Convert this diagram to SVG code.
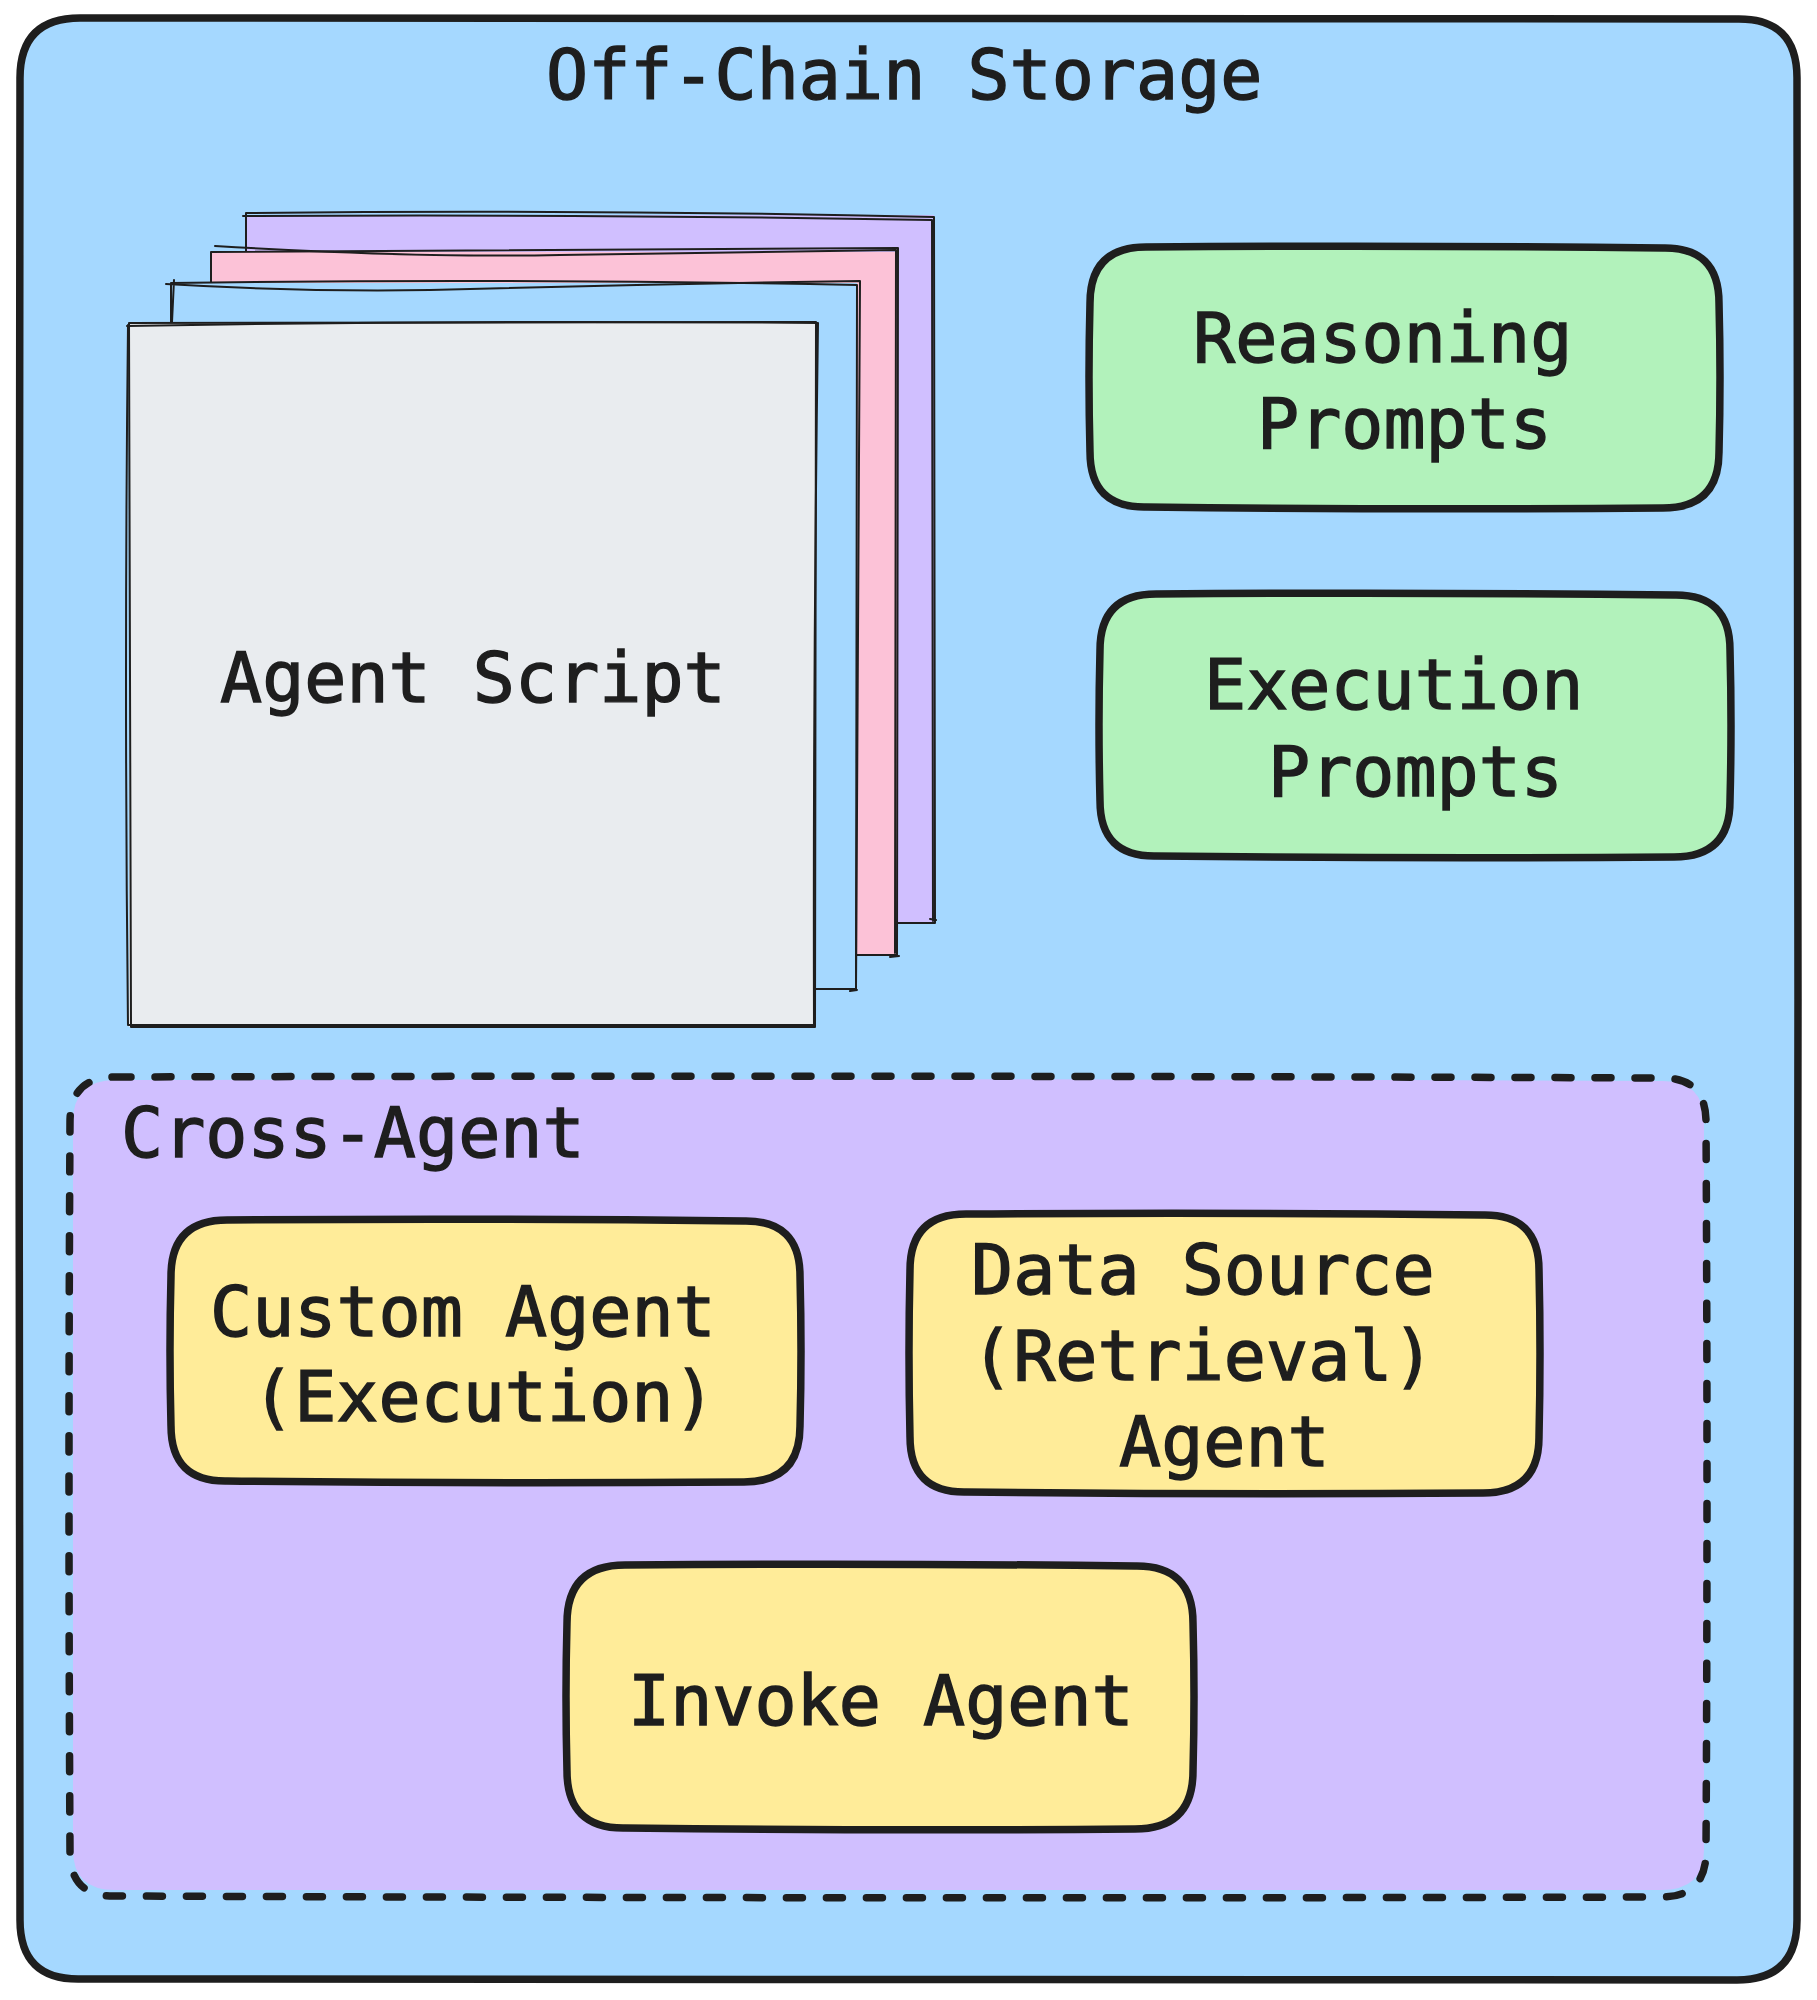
<svg xmlns="http://www.w3.org/2000/svg" width="1817" height="2000" viewBox="0 0 1817 2000">
<style>
.t{font-family:"DejaVu Sans Mono","Liberation Mono",monospace;font-size:70px;fill:#1e1e1e;stroke:#1e1e1e;stroke-width:1.4px;white-space:pre}
.box{stroke:#1e1e1e;stroke-width:7.5;stroke-linejoin:round;stroke-linecap:round}
.thin{fill:none;stroke:#1e1e1e;stroke-width:2;stroke-linecap:round;stroke-linejoin:round}
.green{fill:#b2f2bb}
.yellow{fill:#ffec99}
</style>
<rect width="1817" height="2000" fill="#ffffff"/>
<g id="off-chain-storage">
<path class="box" fill="#a5d8ff" d="M80,18 Q908,15 1737,19 Q1797,18 1797,78 Q1799,999 1797,1920 Q1797,1980 1737,1980 Q908,1982 80,1979 Q20,1980 20,1920 Q18,999 20,78 Q20,18 80,18 Z"/>
<text class="t" x="546" y="99">Off-Chain Storage</text>
</g>
<g id="agent-script">
<rect x="246" y="215" width="688" height="708" fill="#d0bfff"/>
<path class="thin" d="M246,213 Q590,209 934,217 L935,923 L246,923 Z"/>
<path class="thin" d="M243,216 Q600,214 932,220 Q931,570 933,921 M930,919 L936,920"/>
<rect x="211" y="252" width="687" height="703" fill="#fcc2d7"/>
<path class="thin" d="M211,252 Q560,249 898,248 L897,955 L211,955 Z"/>
<path class="thin" d="M215,246 Q420,258 560,255 Q760,252 896,250 Q897,600 895,953 M890,957 L899,956"/>
<rect x="171" y="283" width="686" height="706" fill="#a5d8ff"/>
<path class="thin" d="M171,283 Q520,278 857,285 L856,989 L171,989 Z"/>
<path class="thin" d="M166,284 Q300,292 430,290 Q650,284 860,281 Q857,640 856,987 M850,991 L857,990 M174,280 L172,322"/>
<rect x="129" y="322" width="687" height="705" fill="#e9ecef"/>
<path class="thin" d="M129,323 L816,322 L815,1027 L131,1027 Z"/>
<path class="thin" d="M127,326 Q470,320 818,323 Q813,680 814,1025 Q470,1026 128,1025 Q124,680 128,325"/>
<text class="t" x="220" y="702">Agent Script</text>
</g>
<g id="reasoning-prompts">
<path class="box green" d="M1146,247 Q1404,245 1663,248 Q1719,247 1719,303 Q1721,377 1719,452 Q1719,508 1663,508 Q1404,510 1146,507 Q1090,508 1090,452 Q1088,377 1090,303 Q1090,247 1146,247 Z"/>
<text class="t" x="1193" y="362">Reasoning</text>
<text class="t" x="1257" y="448">Prompts</text>
</g>
<g id="execution-prompts">
<path class="box green" d="M1156,594 Q1415,592 1674,595 Q1730,594 1730,650 Q1732,725 1730,801 Q1730,857 1674,857 Q1415,859 1156,856 Q1100,857 1100,801 Q1098,725 1100,650 Q1100,594 1156,594 Z"/>
<text class="t" x="1204" y="709">Execution</text>
<text class="t" x="1268" y="796">Prompts</text>
</g>
<g id="cross-agent">
<path fill="#d0bfff" d="M115,1080 Q888,1078 1661,1081 Q1704,1080 1704,1122 L1704,1850 Q1704,1890 1661,1890 L115,1890 Q73,1890 73,1850 L73,1122 Q73,1080 115,1080 Z"/>
<path fill="none" stroke="#1e1e1e" stroke-width="7.5" stroke-linecap="round" stroke-dasharray="16 24" d="M115,1077 Q888,1075 1661,1078 Q1706,1077 1706,1122 Q1708,1486 1706,1852 Q1706,1897 1661,1897 Q888,1899 115,1896 Q70,1897 70,1852 Q68,1486 70,1122 Q70,1077 115,1077 Z"/>
<text class="t" x="121" y="1157">Cross-Agent</text>
</g>
<g id="custom-agent">
<path class="box yellow" d="M227,1220 Q485,1218 744,1221 Q800,1220 800,1276 Q802,1351 800,1426 Q800,1482 744,1482 Q485,1484 227,1481 Q171,1482 171,1426 Q169,1351 171,1276 Q171,1220 227,1220 Z"/>
<text class="t" x="210" y="1336">Custom Agent</text>
<text class="t" x="252" y="1421">(Execution)</text>
</g>
<g id="data-source-agent">
<path class="box yellow" d="M966,1214 Q1224,1212 1483,1215 Q1539,1214 1539,1270 Q1541,1353 1539,1437 Q1539,1493 1483,1493 Q1224,1495 966,1492 Q910,1493 910,1437 Q908,1353 910,1270 Q910,1214 966,1214 Z"/>
<text class="t" x="971" y="1294">Data Source</text>
<text class="t" x="971" y="1380">(Retrieval)</text>
<text class="t" x="1119" y="1466">Agent</text>
</g>
<g id="invoke-agent">
<path class="box yellow" d="M625,1565 Q880,1563 1135,1566 Q1193,1565 1193,1623 Q1195,1696 1193,1771 Q1193,1829 1135,1829 Q880,1831 625,1828 Q567,1829 567,1771 Q565,1696 567,1623 Q567,1565 625,1565 Z"/>
<text class="t" x="628" y="1725">Invoke Agent</text>
</g>
<g id="connectors"></g>
</svg>
